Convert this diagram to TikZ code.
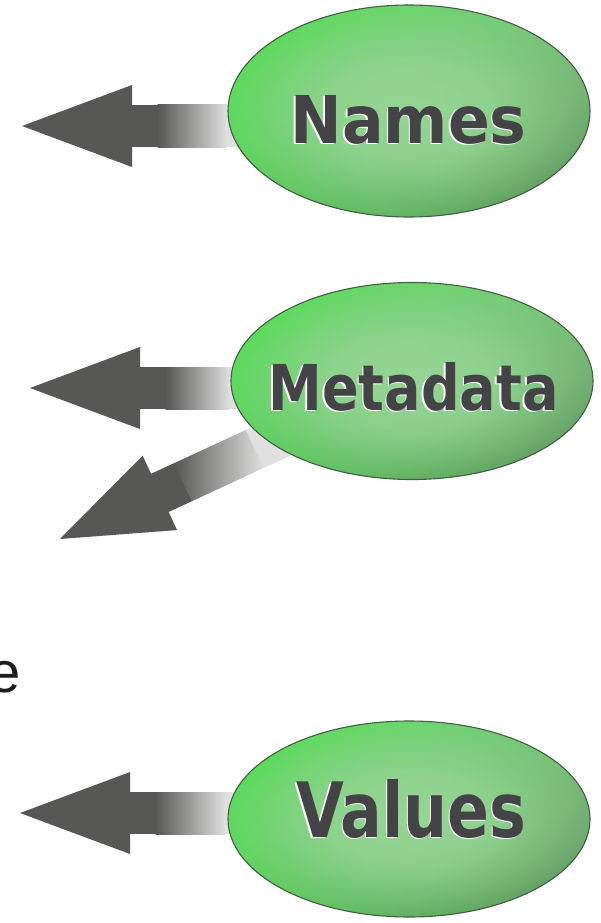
\documentclass[tikz,border=0pt]{standalone}
\usepackage{fontspec}
\usepackage{graphicx}
\setmainfont{Liberation Sans}
\newfontfamily\lblfont{DejaVu Sans}
\usetikzlibrary{shapes.geometric,fadings,shadings}
\definecolor{arrowgray}{HTML}{575755}
\definecolor{shaftend}{HTML}{E0E0E0}
\definecolor{lbltext}{HTML}{444447}
\definecolor{glight}{HTML}{96D596}
\definecolor{gul}{HTML}{3EE63E}
\definecolor{gur}{HTML}{7CC47C}
\definecolor{gll}{HTML}{52D052}
\definecolor{glr}{HTML}{4C784C}
\definecolor{gedge}{HTML}{435F43}
\definecolor{etext}{HTML}{1E1E1E}
\pgfdeclareradialshading{glowshade}{\pgfpoint{0bp}{0bp}}{color(0bp)=(white); color(12bp)=(white!85!black); color(31bp)=(black); color(50bp)=(black)}
\pgfdeclarefading{centerglow}{\pgfuseshading{glowshade}}
\newcommand{\myArrow}[4]{% tip, rotation, fade end, shaft end
  \begin{scope}[shift={(#1)}, rotate=#2]
    \fill[arrowgray] (0,0) -- (110,-41) -- (110,41) -- cycle;
    \fill[arrowgray] (109,-21) rectangle (136,21);
    \shade[left color=arrowgray, right color=shaftend] (135.5,-21) rectangle (#3,21);
    \fill[shaftend] (#3-0.5,-21) rectangle (#4,21);
  \end{scope}}
\tikzset{
  bubble/.style={ellipse, draw=gedge, line width=1.1pt, inner sep=0pt,
    minimum width=362pt,
    path picture={
      \shade[upper left=gul, upper right=gur, lower left=gll, lower right=glr]
        (path picture bounding box.south west) rectangle (path picture bounding box.north east);
      \fill[glight, path fading=centerglow]
        (path picture bounding box.south west) rectangle (path picture bounding box.north east);
    }},
  lbl/.style={anchor=base, inner sep=0pt, text=lbltext, font=\lblfont\bfseries},
  halo/.style={anchor=base, inner sep=0pt, text=white, font=\lblfont\bfseries},
}
\begin{document}
\begin{tikzpicture}[x=1pt,y=-1pt]
\useasboundingbox (0,0) rectangle (601,923);
\fill[white] (0,0) rectangle (601,923);
% arrow tips
\coordinate (tipN) at (22,126);
\coordinate (tipM) at (30,388);
\coordinate (tipD) at (60,539);
\coordinate (tipV) at (20,813);
\myArrow{tipN}{0}{205}{225}
\myArrow{tipM}{0}{200}{222}
\myArrow{tipD}{24.8}{215}{250}
\myArrow{tipV}{0}{205}{225}
% bubbles
\node[bubble, minimum height=212pt] (names) at (409,111) {};
\node[bubble, minimum height=197pt] (meta) at (412,381) {};
\node[bubble, minimum height=196pt] (values) at (409,819) {};
% labels
\node[halo] at (407,144.5) {\resizebox{236pt}{48pt}{Names}};
\node[lbl] (namesT) at (408.5,143) {\resizebox{236pt}{48pt}{Names}};
\node[halo] at (412,411.5) {\resizebox{290pt}{48pt}{Metadata}};
\node[lbl] (metaT) at (413.5,410) {\resizebox{290pt}{48pt}{Metadata}};
\node[halo] at (410,838.5) {\resizebox{230pt}{58pt}{Values}};
\node[lbl] (valuesT) at (411.5,837) {\resizebox{230pt}{58pt}{Values}};
% fragment of text at left edge
\node[anchor=base west, inner sep=0pt, text=etext, font=\fontsize{58}{60}\selectfont] (frag) at (-11.5,692) {e};
\end{tikzpicture}
\end{document}
